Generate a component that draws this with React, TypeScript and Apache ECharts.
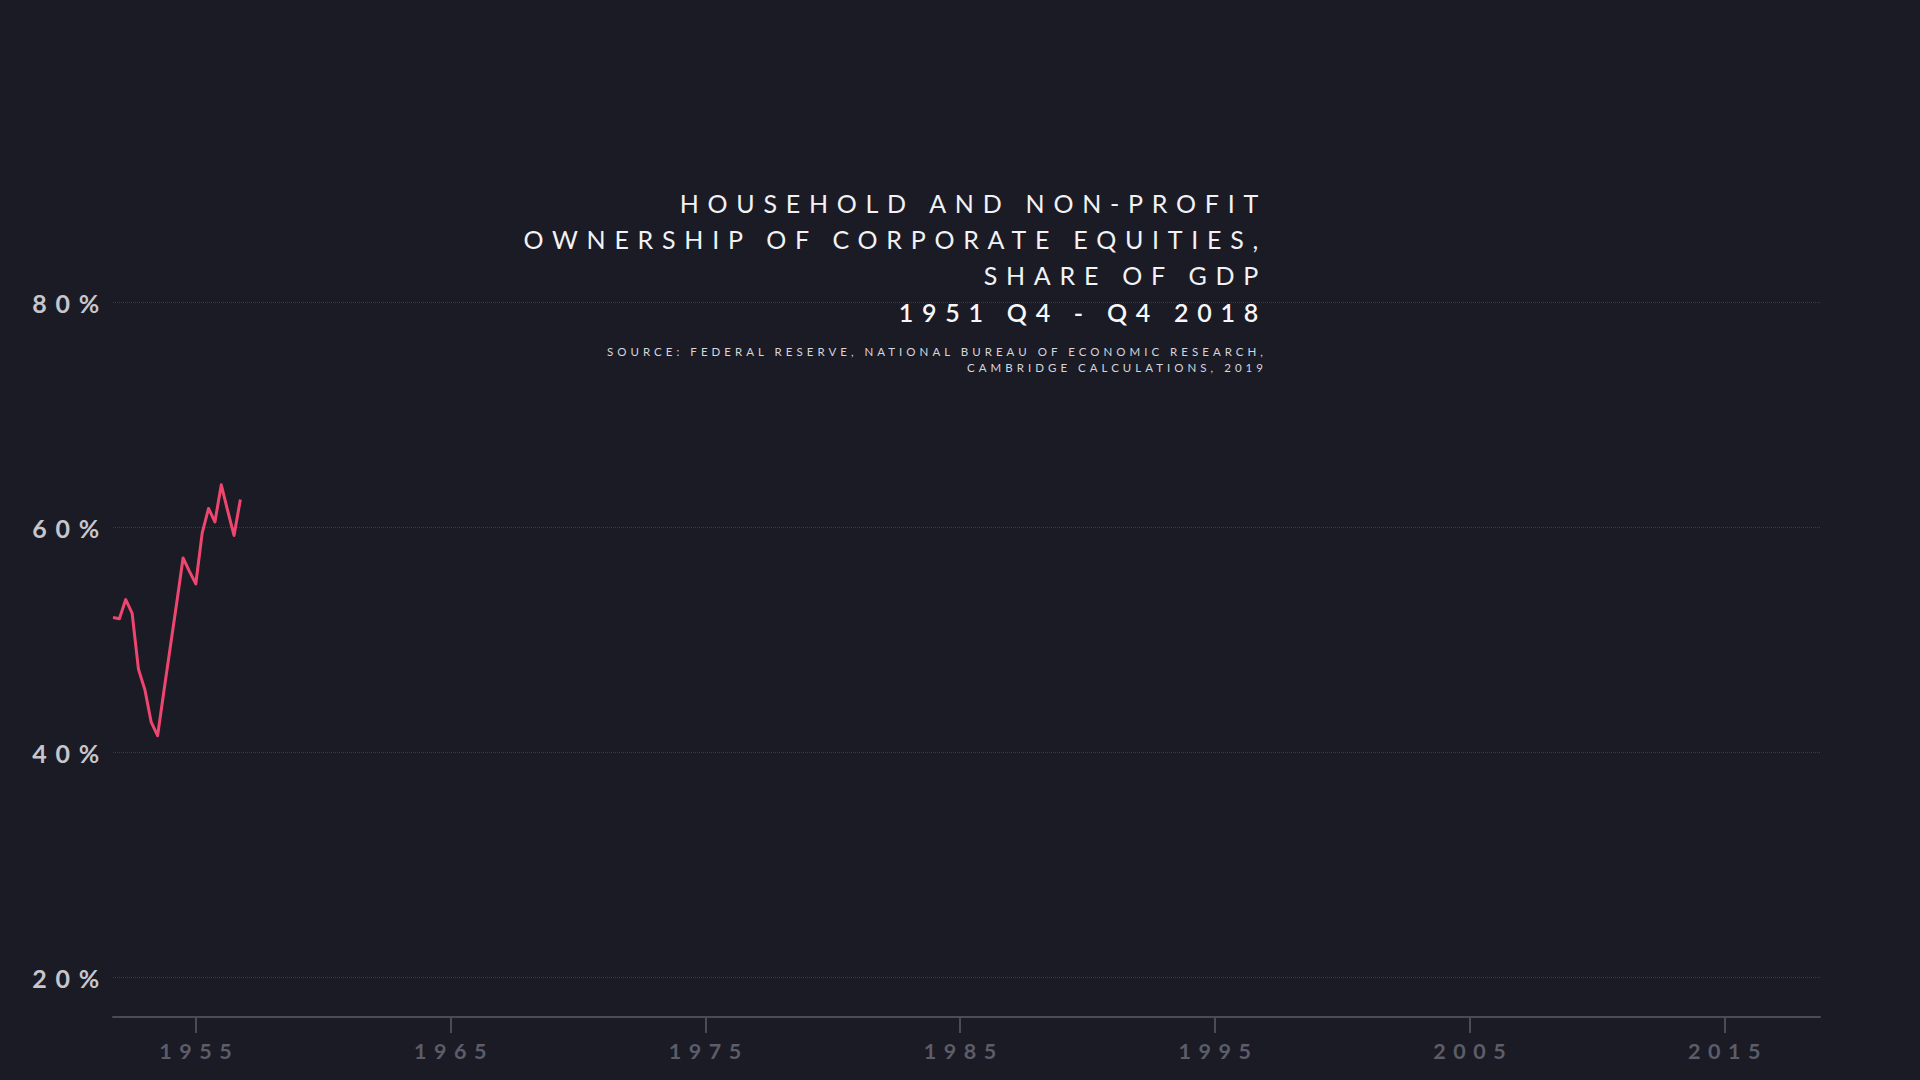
import { useEffect, useRef } from "react";
import * as echarts from "echarts";

const BG = "#1b1b26";
const LINE = "#ef4670";
const AXIS = "#4a4b57";
const GRID = "#3a3b47";
const FONT = "Lato, 'Open Sans', sans-serif";

// quarters 1951 Q4 .. 2018 Q4
const QUARTERS: string[] = (() => {
  const out: string[] = ["1951 Q4"];
  for (let y = 1952; y <= 2018; y++) for (let q = 1; q <= 4; q++) out.push(`${y} Q${q}`);
  return out;
})();

// household equity / GDP, % (only the first quarters are drawn)
const SHARE = [
  52.0, 51.9, 53.6, 52.4, 47.4, 45.6, 42.7, 41.5, 45.5, 49.4, 53.3,
  57.3, 56.1, 55.0, 59.5, 61.7, 60.5, 63.8, 61.5, 59.3, 62.5,
];

const TITLE_LINES = ["HOUSEHOLD AND NON-PROFIT", "OWNERSHIP OF CORPORATE EQUITIES,", "SHARE OF GDP"];
const PERIOD = "1951 Q4 - Q4 2018";
const SOURCE_LINES = [
  "SOURCE: FEDERAL RESERVE, NATIONAL BUREAU OF ECONOMIC RESEARCH,",
  "CAMBRIDGE CALCULATIONS, 2019",
];

const isTickYear = (v: string) => v.endsWith("Q1") && Number(v.slice(0, 4)) % 10 === 5;

export default function App() {
  const ref = useRef<HTMLDivElement>(null);

  useEffect(() => {
    if (!ref.current) return;
    const inst = echarts.init(ref.current, null, { renderer: "svg" });
    inst.setOption({
      backgroundColor: BG,
      animation: false,
      textStyle: { fontFamily: FONT },
      // textAlign right anchors each title at its `left`
      title: [
        {
          text: TITLE_LINES.join("\n"), left: 1267, top: 185, padding: 0, textAlign: "right",
          textStyle: { color: "#f2f2f4", fontSize: 25, fontWeight: 400, lineHeight: 36, fontFamily: FONT },
        },
        {
          text: PERIOD, left: 1267, top: 294, padding: 0, textAlign: "right",
          textStyle: { color: "#f7f7f9", fontSize: 25, fontWeight: 600, lineHeight: 36, fontFamily: FONT },
        },
        {
          text: SOURCE_LINES.join("\n"), left: 1267, top: 343, padding: 0, textAlign: "right",
          textStyle: { color: "#d6d6dc", fontSize: 11.5, fontWeight: 400, lineHeight: 16, fontFamily: FONT },
        },
      ],
      grid: { left: 113, right: 100, top: 190, bottom: 63, containLabel: false },
      xAxis: {
        type: "category", data: QUARTERS, boundaryGap: false,
        axisLine: { lineStyle: { color: AXIS, width: 2 } },
        axisTick: {
          length: 16, lineStyle: { color: AXIS, width: 2 },
          interval: (_i: number, v: string) => isTickYear(v),
        },
        axisLabel: {
          interval: (_i: number, v: string) => isTickYear(v),
          formatter: (v: string) => v.slice(0, 4),
          color: "#5c5d69", fontSize: 21.5, fontWeight: 700, margin: 23, fontFamily: FONT,
          padding: [0, 0, 0, 7],
        },
        splitLine: { show: false },
      },
      yAxis: {
        type: "value", min: 16.5, max: 90, minInterval: 20, maxInterval: 20,
        axisLine: { show: false }, axisTick: { show: false },
        axisLabel: {
          showMinLabel: false, showMaxLabel: false, margin: 5,
          formatter: (v: number) => `${v}%`,
          color: "#c6c6cc", fontSize: 25, fontWeight: 700, fontFamily: FONT,
        },
        splitLine: {
          showMinLine: false, showMaxLine: false,
          lineStyle: { color: GRID, type: "dotted", width: 1 },
        },
      },
      series: [
        {
          type: "line", data: SHARE, showSymbol: false, smooth: false,
          lineStyle: { color: LINE, width: 3, join: "round" },
        },
      ],
    });
    return () => inst.dispose();
  }, []);

  return (
    <>
      <style>{`.chart text { letter-spacing: 0.35em; }`}</style>
      <div ref={ref} className="chart" style={{ position: "absolute", left: 0, top: 0, width: 1920, height: 1080 }} />
    </>
  );
}
